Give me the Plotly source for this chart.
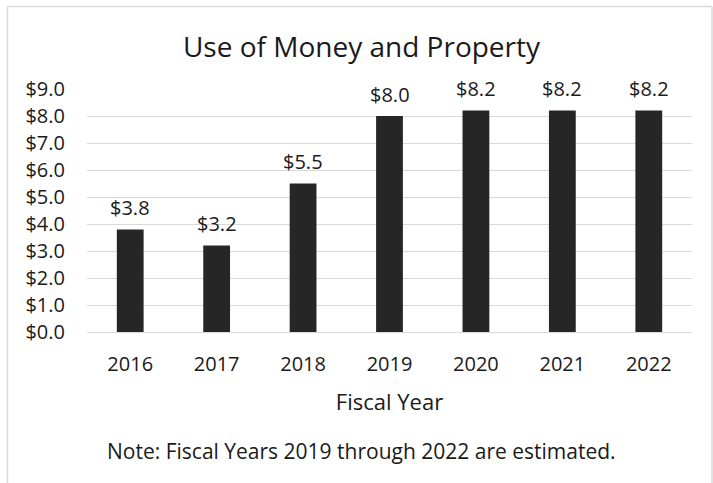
import plotly.graph_objects as go

# Revenue from use of money and property, in millions of dollars
years = ["2016", "2017", "2018", "2019", "2020", "2021", "2022"]
values = [3.8, 3.2, 5.5, 8.0, 8.2, 8.2, 8.2]
tick_vals = [0, 1, 2, 3, 4, 5, 6, 7, 8, 9]
tick_text = ["$%.1f" % v for v in tick_vals]
labels = ["$%.1f" % v for v in values]

W, H = 713, 483
L, R, T, B = 87, 21, 89, 151
FONT = "Open Sans"
INK = "#1a1a1a"


def px_x(x):
    return (x - L) / (W - L - R)


def px_y(y):
    return 1 - (y - T) / (H - T - B)


fig = go.Figure(
    go.Bar(
        x=years,
        y=values,
        marker=dict(color="#262626", line=dict(width=0)),
        width=0.31,
    )
)

# value labels above each bar (category axis positions are serial indices)
value_notes = [
    dict(
        x=i, y=v, xref="x", yref="y", text=lab,
        showarrow=False, xanchor="center", yanchor="middle", yshift=22,
        font=dict(family=FONT, size=20, color=INK),
    )
    for i, (v, lab) in enumerate(zip(values, labels))
]

fig.update_layout(
    width=W,
    height=H,
    margin=dict(l=L, r=R, t=T, b=B),
    paper_bgcolor="white",
    plot_bgcolor="white",
    showlegend=False,
    font=dict(family=FONT, size=20, color=INK),
    title=dict(
        text="Use of Money and Property",
        font=dict(family=FONT, size=28, color=INK),
        x=361.5 / W,
        xanchor="center",
        y=1 - 47 / H,
        yanchor="middle",
    ),
    xaxis=dict(
        type="category",
        range=[-0.5, len(years) - 0.5],
        showgrid=False,
        showline=False,
        ticks="",
        ticklabelstandoff=18,
        tickfont=dict(family=FONT, size=20, color=INK),
        title=dict(text="Fiscal Year", font=dict(family=FONT, size=22, color=INK), standoff=18),
    ),
    yaxis=dict(
        range=[0, 9],
        tickvals=tick_vals,
        ticktext=tick_text,
        showgrid=True,
        gridcolor="#d9d9d9",
        gridwidth=1,
        zeroline=True,
        zerolinecolor="#d9d9d9",
        zerolinewidth=1,
        showline=False,
        ticks="",
        ticklabelstandoff=21,
        tickfont=dict(family=FONT, size=20, color=INK),
    ),
    annotations=value_notes + [
        dict(
            text="Note: Fiscal Years 2019 through 2022 are estimated.",
            xref="paper",
            yref="paper",
            x=px_x(361.5),
            y=px_y(451),
            xanchor="center",
            yanchor="middle",
            showarrow=False,
            font=dict(family=FONT, size=21, color=INK),
        )
    ],
    shapes=[
        # chart frame: left, top and right edges
        dict(type="line", xref="paper", yref="paper",
             x0=px_x(7.5), x1=px_x(7.5), y0=px_y(6.5), y1=px_y(490),
             line=dict(color="#d9d9d9", width=1.5)),
        dict(type="line", xref="paper", yref="paper",
             x0=px_x(7.5), x1=px_x(712), y0=px_y(6.5), y1=px_y(6.5),
             line=dict(color="#d9d9d9", width=1.5)),
        dict(type="line", xref="paper", yref="paper",
             x0=px_x(712), x1=px_x(712), y0=px_y(6.5), y1=px_y(490),
             line=dict(color="#d9d9d9", width=1.5)),
    ],
)

fig.write_html("out.html")
